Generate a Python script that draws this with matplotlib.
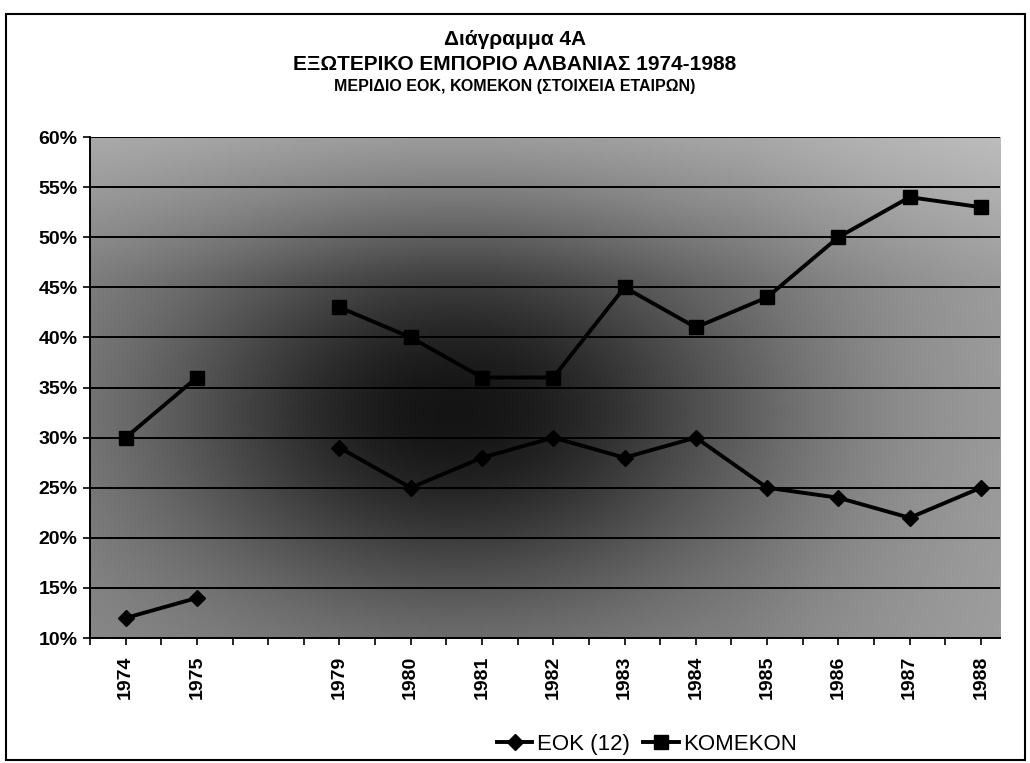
import numpy as np
import matplotlib
matplotlib.use("Agg")
import matplotlib.pyplot as plt
from matplotlib.patches import Rectangle

plt.rcParams['font.family'] = ['Liberation Sans', 'DejaVu Sans']

# data (one empty category between 1975 and 1979)
years = ['1974', '1975', '', '1979', '1980', '1981', '1982', '1983',
         '1984', '1985', '1986', '1987', '1988']
eok = [12, 14, np.nan, 29, 25, 28, 30, 28, 30, 25, 24, 22, 25]
komekon = [30, 36, np.nan, 43, 40, 36, 36, 45, 41, 44, 50, 54, 53]
yticks = [10, 15, 20, 25, 30, 35, 40, 45, 50, 55, 60]

x = np.arange(len(years))

fig = plt.figure(figsize=(10.3, 7.63), dpi=100)
ax = fig.add_axes([0.0874, 0.1638, 0.8836, 0.6566])

# scanned-looking shaded background (cosmetic only)
u, v = np.meshgrid(np.linspace(0, 1, 300), np.linspace(0, 1, 200))
shade = 0.56 - 0.48 * np.exp(-(((u - 0.40) / 0.33) ** 2 + ((v - 0.45) / 0.40) ** 2))
shade += 0.12 * np.clip((v - 0.72) / 0.28, 0, 1)
shade += 0.06 * np.clip((u - 0.72) / 0.28, 0, 1)
ax.imshow(np.clip(shade, 0, 1), cmap='gray', vmin=0, vmax=1, origin='lower',
          extent=(0, 1, 0, 1), transform=ax.transAxes, aspect='auto', zorder=0)

ax.set_xlim(-0.5, 12.27)
ax.set_ylim(10, 60)
ax.set_yticks(yticks)
ax.set_yticklabels([f'{t}%' for t in yticks], fontsize=14, fontweight='bold')
ax.yaxis.grid(True, color='black', linewidth=1.4, zorder=1)
ax.set_axisbelow(False)

ax.set_xticks(x)
ax.set_xticklabels(years, rotation=90, fontsize=14, fontweight='bold')
ax.set_xticks(np.arange(-0.5, 12.3, 1.0), minor=True)
ax.tick_params(axis='x', which='both', direction='out', length=5, width=1.2, pad=8)
ax.tick_params(axis='y', direction='out', length=5, width=1.2, pad=4)

for s in ax.spines.values():
    s.set_linewidth(1.4)
ax.spines['top'].set_visible(False)
ax.spines['right'].set_visible(False)

l1, = ax.plot(x, eok, color='black', lw=2.8, marker='D', markersize=8,
              label='EOK (12)', zorder=3)
l2, = ax.plot(x, komekon, color='black', lw=2.8, marker='s', markersize=10,
              label='KOMEKON', zorder=3)

fig.text(0.5, 0.948, 'Διάγραμμα 4A', ha='center', va='center',
         fontsize=15, fontweight='bold')
fig.text(0.5, 0.915, 'ΕΞΩΤΕΡΙΚΟ ΕΜΠΟΡΙΟ ΑΛΒΑΝΙΑΣ 1974-1988', ha='center',
         va='center', fontsize=15, fontweight='bold')
fig.text(0.5, 0.887, 'ΜΕΡΙΔΙΟ ΕΟΚ, ΚΟΜΕΚΟΝ (ΣΤΟΙΧΕΙΑ ΕΤΑΙΡΩΝ)', ha='center',
         va='center', fontsize=11.5, fontweight='bold')

fig.legend(handles=[l1, l2], loc='center', bbox_to_anchor=(0.628, 0.024),
           ncol=2, frameon=False, fontsize=16, handlelength=1.6,
           handletextpad=0.2, columnspacing=0.6)

fig.add_artist(Rectangle((0.006, 0.004), 0.989, 0.978, transform=fig.transFigure,
                         fill=False, edgecolor='black', linewidth=1.5))

fig.savefig('out.png', dpi=100)
